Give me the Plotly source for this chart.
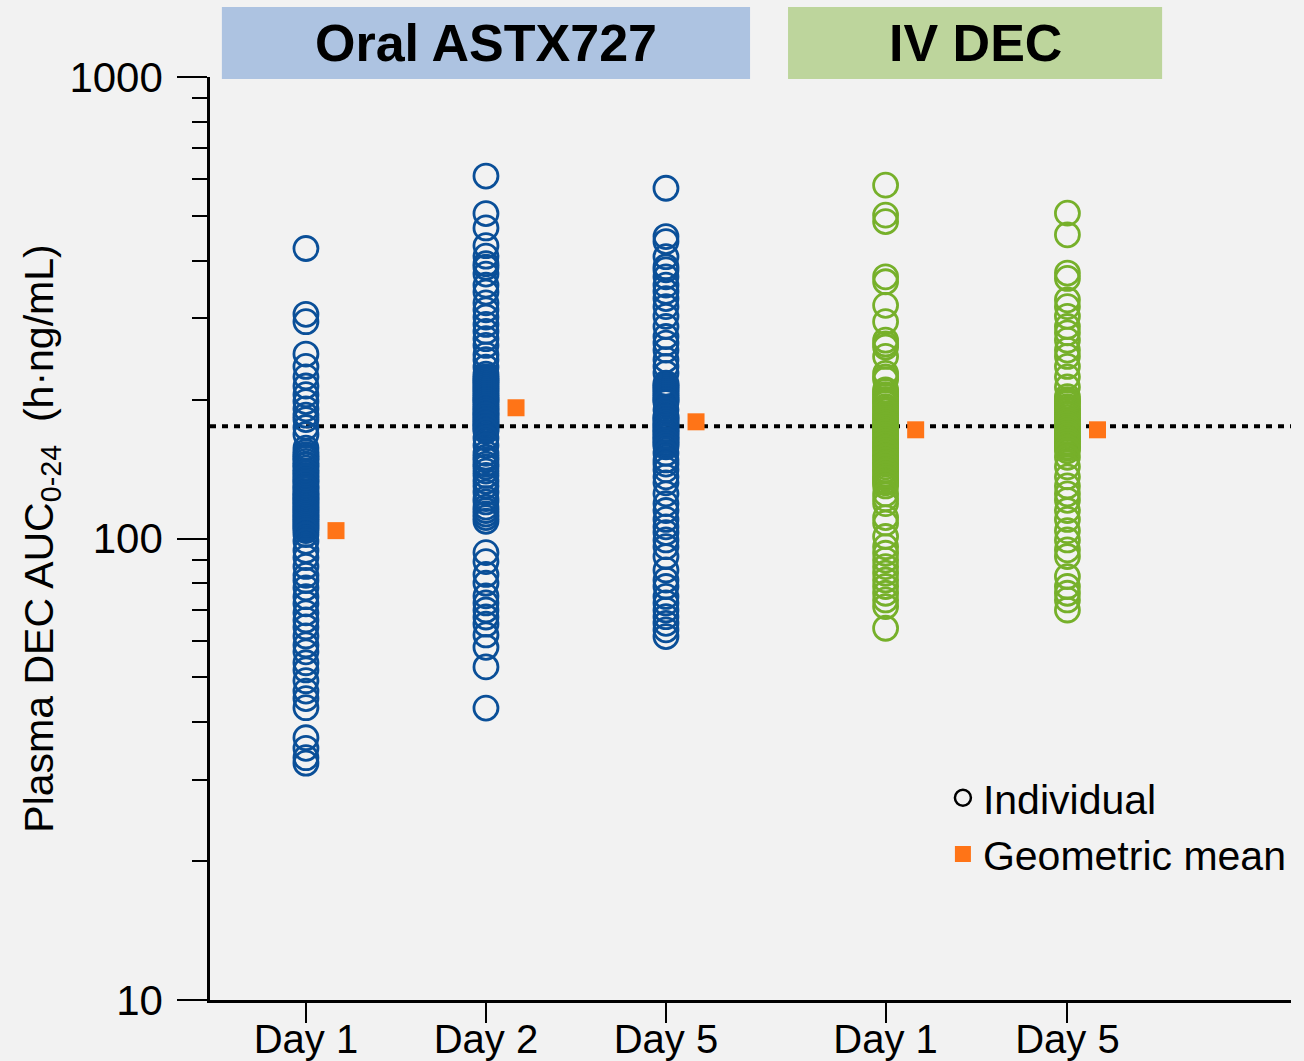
import plotly.graph_objects as go

# ---------------- data ----------------
categories = ["Day 1", "Day 2", "Day 5", "Day 1", "Day 5"]
cat_pos = [1, 2, 3, 4.22, 5.23]
groups = ["Oral ASTX727", "IV DEC"]

oral_day1 = [425, 306, 295, 251, 236, 224, 214, 205, 198, 191, 185, 181, 174, 168, 157,
             154, 152, 150, 149, 147, 145, 144, 142, 140, 139, 137, 136, 134, 133, 132, 130,
             129, 128, 126, 125, 124, 123, 122, 121, 120, 119, 118, 117, 116, 115, 114, 113,
             112, 111, 110, 109, 108, 107, 106, 105, 104,
             102, 98.6, 94.2, 90.9, 87.0, 83.2, 81.1, 78.2, 74.8, 72.2, 69.0, 66.6, 64.3, 61.5,
             58.8, 56.8, 53.8, 51.9, 49.2, 46.7, 45.0, 43.0, 37.0, 35.1, 33.5, 32.6]
oral_day2 = [610, 506, 471, 431, 409, 394, 387, 374, 354, 342, 324, 313, 302, 291, 281, 271,
             262, 250, 244, 235, 227, 224, 222, 220, 218, 216, 214, 212, 210, 208, 206, 204,
             202, 200, 199, 197, 195, 193, 191, 190, 188, 186, 185, 183, 181, 180, 178, 177,
             175, 174, 172, 171, 165, 159, 153, 150, 148, 145, 143, 140, 137, 133, 130, 126,
             122, 120, 117, 115, 113, 111, 109,
             93.2, 89.1, 83.6, 80.0, 75.1, 72.5, 70.0, 67.6, 65.2, 61.8, 58.1, 52.7, 42.9]
oral_day5 = [574, 451, 440, 408, 388, 382, 369, 354, 343, 331, 318, 303, 288, 274, 265, 256,
             244, 236, 228, 217, 215, 214, 212, 210, 208, 206, 204, 202, 200, 199, 197, 190,
             184, 183, 181, 180, 178, 176, 175, 173, 172, 170, 169, 167, 166, 164, 163, 161,
             160, 158, 153, 148, 145, 141, 136, 132, 125, 119, 115, 110, 106,
             103, 99.3, 96.0, 91.4, 85.5, 81.3, 78.7, 74.9, 72.5, 70.0, 67.7, 65.5, 63.4, 61.3]
iv_day1 = [583, 502, 486, 369, 360, 320, 295, 269, 264, 260, 248, 228, 224, 221,
           210, 208, 205, 203, 200, 198, 196, 193, 191, 189, 186, 184, 182, 180, 178, 176,
           174, 172, 170, 168, 166, 164, 162, 160, 158, 157, 155, 153, 151, 150, 148, 146,
           145, 143, 141, 140, 138, 136, 135, 133, 132, 130,
           125, 122, 119, 111, 108, 101, 96.0, 92.9, 89.8, 86.9, 84.1, 81.3, 78.7, 76.1,
           73.6, 71.2, 63.9]
iv_day5 = [507, 455, 376, 366, 329, 318, 303, 288, 279, 269, 256, 248, 236, 224, 213,
           203, 200, 198, 196, 193, 191, 189, 187, 185, 183, 181, 179, 177, 175, 173, 171,
           169, 167, 165, 164, 162, 160, 158, 157, 155,
           150, 143, 136, 130, 125, 121, 115, 110, 104, 99.3, 94.5, 91.4, 82.7, 78.7, 76.1,
           73.6, 70.0]

individual = [oral_day1, oral_day2, oral_day5, iv_day1, iv_day5]
geo_mean = [104, 192, 179, 172, 172]
reference_level = 175

y_tickvals = [10, 100, 1000]
y_minor_vals = [20, 30, 40, 50, 60, 70, 80, 90, 200, 300, 400, 500, 600, 700, 800, 900]

# ---------------- style ----------------
BLUE = "#0a4f98"
GREEN = "#76b02a"
ORANGE = "#ff7417"
BG = "#f2f2f2"
FONT = "Liberation Sans, Arial, sans-serif"
colors = [BLUE, BLUE, BLUE, GREEN, GREEN]
x_range = [0.467, 6.472]
mean_offset = 0.167

fig = go.Figure()

# reference dotted line
fig.add_trace(go.Scatter(
    x=x_range, y=[reference_level, reference_level], mode="lines",
    line=dict(color="black", width=4, dash="6px,6px"),
    showlegend=False, hoverinfo="skip", cliponaxis=False))

for pos, vals, col in zip(cat_pos, individual, colors):
    fig.add_trace(go.Scatter(
        x=[pos] * len(vals), y=vals, mode="markers",
        marker=dict(symbol="circle-open", size=24, color=col, line=dict(width=2.8, color=col)),
        showlegend=False))

fig.add_trace(go.Scatter(
    x=[p + mean_offset for p in cat_pos], y=geo_mean, mode="markers",
    marker=dict(symbol="square", size=17, color=ORANGE),
    showlegend=False))

# legend entries
fig.add_trace(go.Scatter(x=[None], y=[None], mode="markers", name="Individual",
                         marker=dict(symbol="circle-open", size=16, color="black",
                                     line=dict(width=2.5, color="black"))))
fig.add_trace(go.Scatter(x=[None], y=[None], mode="markers", name="Geometric mean",
                         marker=dict(symbol="square", size=16, color=ORANGE)))

# header boxes
header_boxes = [(0.533, 3.467, "#adc3e1", groups[0]), (3.678, 5.756, "#bdd59c", groups[1])]
for x0, x1, fc, label in header_boxes:
    fig.add_shape(type="rect", xref="x", yref="paper", x0=x0, x1=x1, y0=0.9978, y1=1.0758,
                  fillcolor=fc, line=dict(width=0), layer="below")
    fig.add_annotation(xref="x", yref="paper", x=(x0 + x1) / 2, y=1.0368, text="<b>%s</b>" % label,
                       showarrow=False, font=dict(size=52, color="black", family=FONT),
                       xanchor="center", yanchor="middle")

fig.update_layout(
    width=1304, height=1061,
    margin=dict(l=210, r=13, t=77, b=61, autoexpand=False),
    paper_bgcolor=BG, plot_bgcolor=BG,
    font=dict(family=FONT, size=40, color="black"),
    showlegend=True,
    legend=dict(x=0.678, y=0.255, xanchor="left", yanchor="top", bgcolor="rgba(0,0,0,0)",
                font=dict(size=41, family=FONT), itemsizing="trace", tracegroupgap=0),
    xaxis=dict(range=x_range, tickmode="array", tickvals=cat_pos, ticktext=categories,
               automargin=False,
               showgrid=False, zeroline=False, showline=True, linecolor="black", linewidth=2.5,
               ticks="outside", ticklen=20, tickwidth=2, tickcolor="black",
               tickfont=dict(size=40, family=FONT), ticklabelstandoff=-18),
    yaxis=dict(type="log", range=[1, 3], tickmode="array", tickvals=y_tickvals,
               ticktext=[str(v) for v in y_tickvals], automargin=False,
               showgrid=False, zeroline=False, showline=True, linecolor="black", linewidth=2.5,
               ticks="outside", ticklen=30, tickwidth=2, tickcolor="black",
               tickfont=dict(size=42, family=FONT), ticklabelstandoff=6,
               minor=dict(tickmode="array", tickvals=y_minor_vals, ticks="outside",
                          ticklen=15, tickwidth=2, tickcolor="black", showgrid=False),
               title=dict(text="Plasma DEC AUC<sub>0-24</sub>  (h·ng/mL)", standoff=4,
                          font=dict(size=41, family=FONT))),
)

fig.write_html("out.html", config={"displayModeBar": False},
               post_script="document.body.style.margin='0px';")
